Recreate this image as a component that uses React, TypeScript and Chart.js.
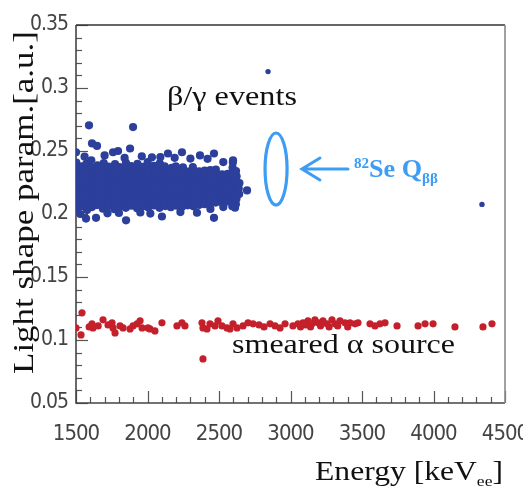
import React, { useEffect, useRef } from "react";
import { Chart, registerables } from "chart.js";
Chart.register(...registerables);

// ---- data (Energy keV, light shape parameter) ----
const betaGammaEvents: [number, number][] = [
  [1504,0.2045],[1508,0.2092],[1502,0.2131],[1510,0.2178],[1505,0.2224],[1509,0.2268],[1503,0.2315],[1507,0.2362],[1502,0.2408],
  [1538,0.2062],[1544,0.2108],[1536,0.2153],[1541,0.2197],[1546,0.2241],[1535,0.2286],[1543,0.2334],[1539,0.2379],
  [1577,0.2031],[1572,0.2083],[1580,0.2124],[1574,0.2171],[1578,0.2213],[1571,0.2259],[1582,0.2302],[1576,0.2351],[1573,0.2398],
  [1612,0.2055],[1608,0.2101],[1615,0.2142],[1606,0.2188],[1613,0.2232],[1609,0.2277],[1616,0.2321],[1611,0.2369],[1607,0.2426],
  [1648,0.2071],[1652,0.2114],[1645,0.2158],[1655,0.2203],[1649,0.2249],[1653,0.2292],[1646,0.2338],[1651,0.2387],
  [1688,0.2042],[1693,0.2089],[1686,0.2133],[1691,0.2179],[1695,0.2221],[1687,0.2266],[1692,0.2311],[1689,0.2358],[1694,0.2404],
  [1728,0.2063],[1733,0.2104],[1726,0.2149],[1731,0.2194],[1735,0.2238],[1729,0.2283],[1734,0.2329],[1727,0.2377],
  [1769,0.2038],[1766,0.2081],[1772,0.2122],[1768,0.2168],[1774,0.2212],[1767,0.2257],[1771,0.2303],[1765,0.2349],[1773,0.2396],
  [1808,0.2058],[1812,0.2103],[1805,0.2146],[1811,0.2191],[1806,0.2236],[1813,0.2279],[1809,0.2325],[1804,0.2372],
  [1848,0.2049],[1845,0.2092],[1851,0.2137],[1847,0.2182],[1852,0.2227],[1846,0.2271],[1850,0.2316],[1844,0.2362],[1849,0.2405],
  [1887,0.2066],[1891,0.2111],[1884,0.2155],[1889,0.2199],[1893,0.2243],[1886,0.2288],[1890,0.2333],[1885,0.2381],
  [1927,0.2046],[1923,0.2089],[1929,0.2131],[1925,0.2176],[1931,0.2221],[1924,0.2264],[1928,0.2309],[1922,0.2355],[1930,0.2399],
  [1966,0.2061],[1962,0.2106],[1969,0.2151],[1964,0.2196],[1968,0.2239],[1961,0.2284],[1967,0.2328],[1963,0.2374],
  [2005,0.2052],[2009,0.2097],[2003,0.2142],[2008,0.2186],[2002,0.2229],[2010,0.2274],[2004,0.2318],[2007,0.2364],[2001,0.2411],
  [2045,0.2068],[2041,0.2113],[2047,0.2157],[2043,0.2201],[2049,0.2246],[2042,0.2291],[2046,0.2336],[2044,0.2383],
  [2084,0.2049],[2088,0.2093],[2082,0.2136],[2087,0.2181],[2083,0.2225],[2089,0.2269],[2085,0.2313],[2081,0.2358],[2086,0.2401],
  [2124,0.2063],[2121,0.2108],[2127,0.2152],[2123,0.2197],[2128,0.2241],[2122,0.2285],[2126,0.2331],[2120,0.2378],
  [2163,0.2054],[2167,0.2098],[2161,0.2143],[2166,0.2188],[2162,0.2232],[2168,0.2276],[2164,0.2321],[2169,0.2367],
  [2203,0.2066],[2199,0.2111],[2205,0.2154],[2201,0.2199],[2206,0.2244],[2200,0.2288],[2204,0.2333],[2198,0.2379],
  [2242,0.2057],[2246,0.2101],[2240,0.2146],[2245,0.2191],[2241,0.2235],[2247,0.2279],[2243,0.2324],[2248,0.2371],
  [2281,0.2069],[2285,0.2114],[2279,0.2158],[2284,0.2203],[2280,0.2247],[2286,0.2292],[2282,0.2337],
  [2321,0.2061],[2318,0.2106],[2324,0.2151],[2320,0.2195],[2325,0.2239],[2319,0.2284],[2323,0.2329],[2317,0.2372],
  [2360,0.2072],[2364,0.2117],[2358,0.2161],[2363,0.2206],[2359,0.2251],[2365,0.2295],[2361,0.2339],
  [2399,0.2078],[2403,0.2121],[2397,0.2166],[2402,0.2211],[2398,0.2255],[2404,0.2299],[2400,0.2344],
  [2438,0.2085],[2442,0.2128],[2436,0.2172],[2441,0.2216],[2437,0.2261],[2443,0.2305],[2439,0.2349],
  [2477,0.2091],[2481,0.2134],[2475,0.2178],[2480,0.2222],[2476,0.2266],[2482,0.2309],[2478,0.2352],
  [2516,0.2096],[2520,0.2139],[2514,0.2183],[2519,0.2227],[2515,0.2271],[2521,0.2314],
  [2555,0.2099],[2559,0.2142],[2553,0.2186],[2558,0.2231],[2554,0.2274],[2560,0.2318],
  [2593,0.2062],[2598,0.2104],[2591,0.2147],[2596,0.2191],[2600,0.2236],[2594,0.2279],[2599,0.2323],[2595,0.2367],[2597,0.2408],
  [2618,0.2078],[2622,0.2122],[2616,0.2166],[2621,0.2211],[2617,0.2255],[2623,0.2298],[2619,0.2341],
  [2641,0.2158],[2638,0.2201],[2643,0.2246],
  // upper stragglers
  [1591,0.2704],[1899,0.2690],[1500,0.2490],[1612,0.2560],[1647,0.2540],[1759,0.2490],[1794,0.2500],[1878,0.2520],
  [2031,0.2450],[2143,0.2480],[2241,0.2490],[2367,0.2465],[2465,0.2480],[2598,0.2425],[1560,0.2455],[1700,0.2465],
  [1840,0.2445],[1960,0.2458],[2090,0.2452],[2190,0.2446],[2300,0.2440],[2420,0.2438],[2530,0.2412],
  // lower stragglers
  [1570,0.1964],[1640,0.1970],[1850,0.1950],[2101,0.1980],[2465,0.1970],[2346,0.2010],[2612,0.2050],[1530,0.2000],
  [1720,0.2005],[1950,0.2012],[2230,0.2015],[2440,0.2040],[2530,0.2055],[1800,0.2008],[2020,0.2003],
  [2696,0.2187],
];

const betaGammaIsolated: [number, number][] = [[2843, 0.313], [4339, 0.2076]];

const alphaEvents: [number, number][] = [
  [1500,0.1096],[1542,0.1216],[1535,0.1040],[1592,0.1104],[1612,0.1128],[1619,0.1096],[1655,0.1112],[1689,0.1160],
  [1724,0.1120],[1752,0.1136],[1759,0.1096],[1773,0.1056],[1808,0.1112],[1829,0.1096],[1878,0.1088],[1899,0.1112],
  [1927,0.1128],[1948,0.1152],[1962,0.1096],[2003,0.1096],[2017,0.1088],[2052,0.1072],[2101,0.1136],[2206,0.1112],
  [2241,0.1136],[2262,0.1112],[2381,0.1136],[2388,0.1096],[2416,0.1088],[2437,0.1128],[2472,0.1112],[2493,0.1152],
  [2521,0.1112],[2556,0.1096],[2577,0.1088],[2598,0.1128],[2626,0.1096],[2668,0.1112],[2703,0.1136],[2738,0.1128],
  [2780,0.1120],[2815,0.1104],[2857,0.1128],[2892,0.1112],[2927,0.1096],[2962,0.1128],[3017,0.1112],[3052,0.1128],
  [3070,0.1104],[3087,0.1136],[3105,0.1120],[3122,0.1152],[3140,0.1104],[3150,0.1128],[3171,0.1160],[3192,0.1136],
  [3210,0.1112],[3227,0.1152],[3255,0.1128],[3270,0.1104],[3290,0.1160],[3311,0.1128],[3330,0.1112],[3346,0.1152],
  [3381,0.1136],[3400,0.1104],[3416,0.1136],[3451,0.1128],[3472,0.1136],[3556,0.1128],[3591,0.1112],[3626,0.1128],
  [3661,0.1136],[3745,0.1112],[3892,0.1112],[3941,0.1128],[3997,0.1128],[4150,0.1104],[4346,0.1104],[4409,0.1128],
  [2388,0.0850],
];

const xTickValues = [1500, 2000, 2500, 3000, 3500, 4000, 4500];
const xTickLabels = ["1500", "2000", "2500", "3000", "3500", "4000", "4500"];
const yTickValues = [0.05, 0.1, 0.15, 0.2, 0.25, 0.3, 0.35];
const yTickLabels = ["0.05", "0.1", "0.15", "0.2", "0.25", "0.3", "0.35"];

const BLUE = "#2b3f9b";
const RED = "#c4202b";
const LIGHT_BLUE = "#3d9cf3";
const SERIF = "'Liberation Serif', 'DejaVu Serif', serif";
const NARROW = "'Liberation Sans Narrow', 'DejaVu Sans Condensed', sans-serif";

function labelFor(values: number[], labels: string[], v: number) {
  for (let i = 0; i < values.length; i++) if (Math.abs(values[i] - v) < 1e-6) return labels[i];
  return "";
}

type Run = { text: string; font: string; dy: number };
function drawRuns(ctx: CanvasRenderingContext2D, runs: Run[], x: number, y: number, targetW?: number) {
  let total = 0;
  const ws = runs.map((r) => {
    ctx.font = r.font;
    const w = ctx.measureText(r.text).width;
    total += w;
    return w;
  });
  const s = targetW ? targetW / total : 1;
  ctx.save();
  ctx.translate(x, y);
  ctx.scale(s, 1);
  let cx = 0;
  runs.forEach((r, i) => {
    ctx.font = r.font;
    ctx.fillText(r.text, cx, r.dy);
    cx += ws[i];
  });
  ctx.restore();
}

const decor = {
  id: "decor",
  beforeDraw(chart: any) {
    (chart.ctx as any).letterSpacing = "-1px";
  },
  beforeDatasetsDraw(chart: any) {
    const ctx: CanvasRenderingContext2D = chart.ctx;
    const { left, right, top, bottom } = chart.chartArea;
    const xs = chart.scales.x;
    const ys = chart.scales.y;
    ctx.save();
    ctx.strokeStyle = "#555";
    ctx.lineWidth = 1.2;
    for (let i = 5; i <= 35; i++) {
      const py = Math.round(ys.getPixelForValue(i / 100)) + 0.5;
      const len = i % 5 === 0 ? 12 : 6;
      ctx.beginPath();
      ctx.moveTo(left, py);
      ctx.lineTo(left + len, py);
      ctx.stroke();
    }
    for (let i = 15; i <= 45; i++) {
      const px = Math.round(xs.getPixelForValue(i * 100)) + 0.5;
      const len = i % 5 === 0 ? 12 : 6;
      ctx.beginPath();
      ctx.moveTo(px, bottom);
      ctx.lineTo(px, bottom - len);
      ctx.stroke();
    }
    ctx.lineWidth = 1.6;
    ctx.strokeStyle = "#333";
    ctx.beginPath();
    ctx.moveTo(left, top);
    ctx.lineTo(right, top);
    ctx.stroke();
    ctx.strokeStyle = "#444";
    ctx.beginPath();
    ctx.moveTo(left, top);
    ctx.lineTo(left, bottom);
    ctx.lineTo(right, bottom);
    ctx.stroke();
    ctx.strokeStyle = "#8a8a8a";
    ctx.beginPath();
    ctx.moveTo(right, top);
    ctx.lineTo(right, bottom);
    ctx.stroke();
    ctx.restore();
  },
  afterDraw(chart: any) {
    const ctx: CanvasRenderingContext2D = chart.ctx;
    (ctx as any).letterSpacing = "0px";
    const xs = chart.scales.x;
    const ys = chart.scales.y;
    ctx.save();
    ctx.fillStyle = "#111";
    ctx.textBaseline = "alphabetic";
    ctx.textAlign = "left";

    ctx.save();
    ctx.translate(33, 203);
    ctx.rotate(-Math.PI / 2);
    drawRuns(ctx, [{ text: "Light shape param.[a.u.]", font: `29px ${SERIF}`, dy: 0 }], -171, 0, 343);
    ctx.restore();

    drawRuns(
      ctx,
      [
        { text: "Energy [keV", font: `27px ${SERIF}`, dy: 0 },
        { text: "ee", font: `15px ${SERIF}`, dy: 6 },
        { text: "]", font: `27px ${SERIF}`, dy: 0 },
      ],
      315,
      480,
      188
    );

    drawRuns(ctx, [{ text: "β/γ events", font: `27px ${SERIF}`, dy: 0 }], xs.getPixelForValue(2136), ys.getPixelForValue(0.2865), 130);
    drawRuns(ctx, [{ text: "smeared α source", font: `27px ${SERIF}`, dy: 0 }], xs.getPixelForValue(2591), ys.getPixelForValue(0.0897), 223);

    const cx = xs.getPixelForValue(2899);
    const cy = ys.getPixelForValue(0.2357);
    const rx = Math.abs(xs.getPixelForValue(2899 + 77) - cx);
    const ry = Math.abs(ys.getPixelForValue(0.2357 + 0.0286) - cy);
    ctx.strokeStyle = LIGHT_BLUE;
    ctx.lineWidth = 3.2;
    ctx.beginPath();
    ctx.ellipse(cx, cy, rx, ry, 0, 0, Math.PI * 2);
    ctx.stroke();

    const ax0 = xs.getPixelForValue(3080);
    const ax1 = xs.getPixelForValue(3402);
    ctx.lineWidth = 3;
    ctx.lineCap = "round";
    ctx.beginPath();
    ctx.moveTo(ax1, cy);
    ctx.lineTo(ax0, cy);
    ctx.moveTo(ax0 + 18, cy - 11);
    ctx.lineTo(ax0, cy);
    ctx.lineTo(ax0 + 18, cy + 11);
    ctx.stroke();

    ctx.fillStyle = LIGHT_BLUE;
    drawRuns(
      ctx,
      [
        { text: "82", font: `bold 15px ${SERIF}`, dy: -9 },
        { text: "Se Q", font: `bold 26px ${SERIF}`, dy: 0 },
        { text: "ββ", font: `bold 15px ${SERIF}`, dy: 6 },
      ],
      xs.getPixelForValue(3444),
      ys.getPixelForValue(0.2294),
      84
    );
    ctx.restore();
  },
};

export default function App() {
  const ref = useRef<HTMLCanvasElement | null>(null);
  useEffect(() => {
    if (!ref.current) return;
    const toXY = (arr: [number, number][]) => arr.map(([x, y]) => ({ x, y }));
    const chart = new Chart(ref.current, {
      type: "scatter",
      data: {
        datasets: [
          { label: "smeared α source", data: toXY(alphaEvents), backgroundColor: RED, pointRadius: 3.6, borderWidth: 0 },
          { label: "β/γ events", data: toXY(betaGammaEvents), backgroundColor: BLUE, pointRadius: 4.1, borderWidth: 0 },
          { label: "β/γ isolated", data: toXY(betaGammaIsolated), backgroundColor: BLUE, pointRadius: 2.7, borderWidth: 0 },
        ],
      },
      options: {
        responsive: false,
        animation: false,
        devicePixelRatio: 1,
        layout: { padding: { left: 0, top: 25, right: 18, bottom: 0 } },
        plugins: { legend: { display: false }, tooltip: { enabled: false } },
        scales: {
          x: {
            type: "linear",
            min: 1500,
            max: 4500,
            grid: { display: false, drawTicks: false },
            border: { display: false },
            ticks: {
              stepSize: 500,
              padding: 18,
              color: "#444",
              font: { family: NARROW, size: 22 },
              maxRotation: 0,
              callback: (v: any) => labelFor(xTickValues, xTickLabels, Number(v)),
            },
            afterFit: (s: any) => {
              s.height = 97;
              s.paddingLeft = 0;
              s.paddingRight = 0;
            },
          },
          y: {
            type: "linear",
            min: 0.05,
            max: 0.35,
            grid: { display: false, drawTicks: false },
            border: { display: false },
            ticks: {
              stepSize: 0.05,
              padding: 8,
              color: "#444",
              font: { family: NARROW, size: 21 },
              callback: (v: any) => labelFor(yTickValues, yTickLabels, Number(v)),
            },
            afterFit: (s: any) => {
              s.width = 76;
              s.paddingTop = 0;
              s.paddingBottom = 0;
            },
          },
        },
      },
      plugins: [decor],
    });
    return () => chart.destroy();
  }, []);
  return (
    <div style={{ position: "absolute", left: 0, top: 0, width: 523, height: 500, background: "#fff" }}>
      <canvas ref={ref} width={523} height={500} />
    </div>
  );
}
